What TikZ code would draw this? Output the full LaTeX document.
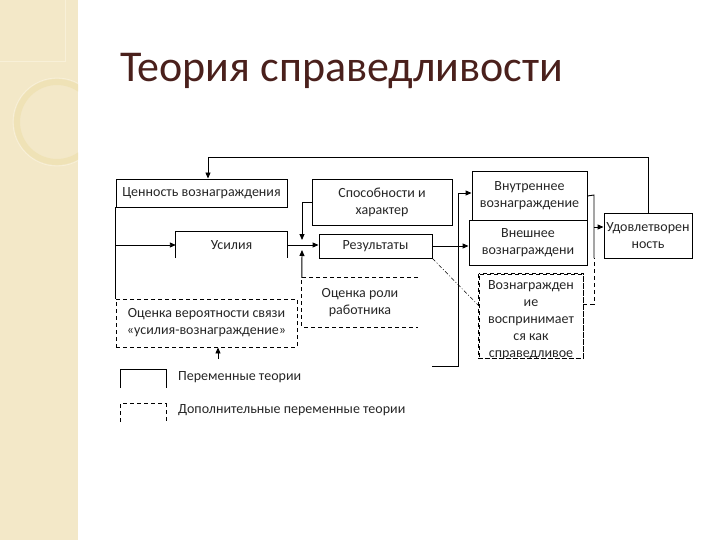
\documentclass[tikz,border=0pt]{standalone}
\usepackage{fontspec}
\setmainfont{Carlito}
\usetikzlibrary{arrows.meta}
\definecolor{beige}{RGB}{243,232,200}
\definecolor{ringc}{RGB}{239,226,182}
\definecolor{ringl}{RGB}{248,240,216}
\definecolor{titlec}{RGB}{74,32,28}
\newcommand{\diaglabfont}{\fontsize{14}{17}\selectfont}
\begin{document}
\begin{tikzpicture}[x=1pt,y=-1pt,
  lw/.style={line width=0.9pt},
  box/.style={draw, lw, fill=white, inner sep=0pt, align=center, font=\diaglabfont, text=black!85},
  dbox/.style={draw, lw, dash pattern=on 4pt off 3pt, fill=white, inner sep=0pt, align=center, font=\diaglabfont, text=black!85},
  plain/.style={inner sep=0pt, align=center, font=\diaglabfont, text=black!85},
  dline/.style={lw, dash pattern=on 4pt off 3pt},
  arr/.style={lw, -{Triangle[length=6pt,width=5pt]}},
  dd/.style={line width=0.5pt, dash pattern=on 4pt off 2pt on 1pt off 2pt}]
\useasboundingbox (0,0) rectangle (720,540);
% background strip
\fill[beige] (0,0) rectangle (78,540);
\begin{scope}
  \clip (0,0) rectangle (78,540);
  \draw[ringc, line width=6pt] (57,122) circle (40);
  \draw[ringl, line width=0.8pt] (57,122) circle (44);
  \draw[ringl, line width=1pt] (0,62) -- (65,62) -- (65,0);
  \draw[ringl, line width=0.8pt] (63,0) arc[start angle=0, end angle=-70, radius=60];
\end{scope}
% title
\node[anchor=base west, inner sep=0pt, font=\fontsize{44}{50}\selectfont, text=titlec] (title) at (120,82) {Теория справедливости};
% boxes
\node[box, minimum width=171pt, minimum height=28pt] (cen) at (201.5,193) {Ценность вознаграждения};
\node[plain, minimum width=111pt, minimum height=26pt] (us) at (231.5,245) {Усилия};
\draw[lw] (us.south west) -- (us.north west) -- (us.north east) -- (us.south east);
\node[box, minimum width=113pt, minimum height=24pt] (res) at (375.5,246) {Результаты};
\node[box, minimum width=140pt, minimum height=46pt] (spo) at (382,202) {Способности и\\характер};
\node[box, minimum width=115pt, minimum height=50pt] (vnut) at (529.5,196) {Внутреннее\\вознаграждение};
\node[box, minimum width=118pt, minimum height=45pt] (vnesh) at (528,242.5) {Внешнее\\вознаграждени};
\node[box, minimum width=88pt, minimum height=45pt] (udov) at (648,235.5) {Удовлетворен\\ность};
\node[dbox, minimum width=181pt, minimum height=48pt] (ocv) at (206.5,323) {Оценка вероятности связи\\«усилия-вознаграждение»};
\node[plain, minimum width=116pt, minimum height=49pt] (ocr) at (360,302.5) {Оценка роли\\работника};
\draw[dline] (ocr.north east) -- (ocr.north west) -- (ocr.south west) -- (ocr.south east);
\node[dbox, minimum width=104pt, minimum height=84pt] (voz) at (531,316) {};
\begin{scope}
  \clip (voz.north west) rectangle (voz.south east);
  \node[plain] (voztxt) at (531,320) {Вознагражден\\ие\\воспринимает\\ся как\\справедливое};
\end{scope}
\draw[dline] (voz.north west) rectangle (voz.south east);
% connectors
\coordinate (fbk) at (208,157);
\draw[arr] (udov.north) |- (fbk) -- (cen.north -| fbk);
\draw[arr] (cen.south west) |- (us.west);
\draw[lw] (cen.south west) -- (ocv.north west);
\draw[arr] (us.east) -- (us.east -| res.west);
\coordinate (j1) at (302,202);
\coordinate (j2) at (302,240);
\draw[arr] (spo.west) -- (j1) -- (j2);
\coordinate (j3) at (302,250);
\draw[arr] (ocr.north west) -- (j3);
\draw[arr] (res.east) -- (res.east -| vnesh.west);
\coordinate (v1) at (458,193);
\coordinate (v2) at (458,366);
\coordinate (v3) at (432,366);
\draw[arr] (v3) -- (v2) -- (v1) -- (v1 -| vnut.west);
\coordinate (r1) at (594,195);
\coordinate (r2) at (594,227);
\coordinate (r3) at (594,258);
\coordinate (d1) at (594,304);
\draw[lw] (vnut.east) -- (r1) -- (r3);
\draw[arr] (r2) -- (r2 -| udov.west);
\draw[dline] (voz.east |- d1) -- (d1) -- (r3);
\coordinate (d2) at (479,306);
\draw[dd] (res.south east) -- (d2);
\coordinate (a1) at (218,359);
\draw[arr] (a1) -- (a1 |- ocv.south);
% legend
\node[plain, minimum width=45pt, minimum height=18pt] (lg1) at (143.5,379) {};
\draw[lw] (lg1.south west) -- (lg1.north west) -- (lg1.north east) -- (lg1.south east);
\node[plain, anchor=west] (lt1) at (178,377) {Переменные теории};
\node[plain, minimum width=45pt, minimum height=18pt] (lg2) at (143.5,413) {};
\draw[dline] (lg2.south west) -- (lg2.north west) -- (lg2.north east) -- (lg2.south east);
\node[plain, anchor=west] (lt2) at (178,410) {Дополнительные переменные теории};
\end{tikzpicture}
\end{document}
